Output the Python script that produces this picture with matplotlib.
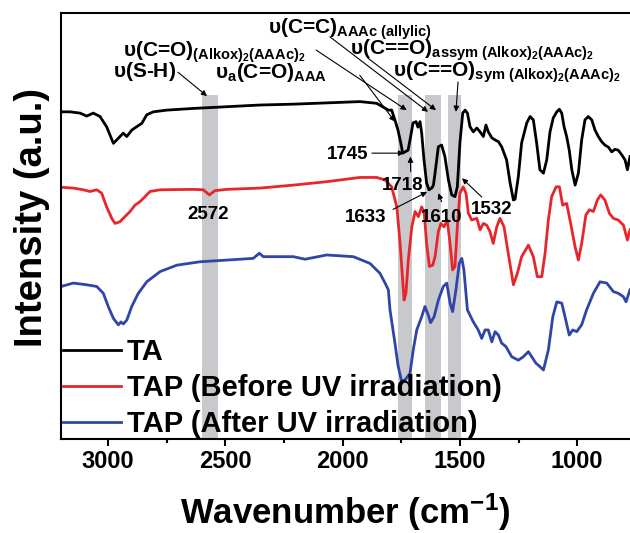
import matplotlib
matplotlib.use('Agg')
import matplotlib.pyplot as plt
from matplotlib.ticker import MultipleLocator

plt.rcParams.update({
    'font.family': 'Liberation Sans',
    'font.weight': 'bold',
    'axes.labelweight': 'bold',
    'mathtext.fontset': 'custom',
    'mathtext.rm': 'Liberation Sans:bold',
    'mathtext.bf': 'Liberation Sans:bold',
    'mathtext.sf': 'Liberation Sans',
    'mathtext.it': 'Liberation Sans:italic',
})

# FTIR spectra (wavenumber in cm-1, intensity in a.u. with vertical offsets)
wn_ta = [3200, 3162, 3119, 3091, 3063, 3034, 3006, 2977, 2963, 2949, 2935, 2920, 2899, 2878, 2856, 2835,
         2807, 2750, 2636, 2494, 2352, 2210, 2068, 1926, 1855, 1805, 1791, 1777, 1764, 1752, 1744, 1734,
         1721, 1710, 1700, 1687, 1679, 1670, 1663, 1653, 1642, 1632, 1620, 1613, 1606, 1592, 1578, 1564,
         1549, 1535, 1521, 1511, 1500, 1488, 1478, 1468, 1457, 1443, 1428, 1414, 1400, 1389, 1379, 1364,
         1350, 1336, 1322, 1301, 1286, 1272, 1265, 1251, 1237, 1215, 1201, 1187, 1173, 1159, 1144, 1130,
         1116, 1102, 1087, 1076, 1066, 1056, 1045, 1034, 1023, 1009, 995, 981, 967, 953, 938, 924,
         910, 896, 882, 867, 853, 839, 825, 810, 796, 786, 775]
int_ta = [76.8, 76.8, 76.5, 75.8, 76.5, 75.7, 73.3, 69.4, 70.2, 71.0, 71.8, 71.0, 72.5, 73.3, 74.1, 76.1,
          76.8, 77.2, 77.6, 78.0, 78.4, 78.6, 78.9, 79.2, 78.8, 77.2, 77.2, 74.9, 72.5, 69.5, 67.1, 67.4,
          67.8, 71.0, 74.2, 74.5, 73.2, 74.5, 71.8, 65.5, 60.1, 58.5, 58.9, 59.6, 62.4, 68.6, 69.0, 66.3,
          60.8, 57.3, 56.9, 59.2, 69.5, 76.5, 77.2, 76.5, 73.3, 72.1, 73.0, 72.1, 71.0, 73.7, 72.1, 70.7,
          70.2, 69.8, 68.6, 65.5, 60.1, 56.1, 56.3, 61.6, 69.5, 74.2, 75.7, 74.9, 69.5, 63.2, 62.4, 65.5,
          72.1, 75.4, 76.8, 77.4, 76.5, 73.3, 71.0, 67.8, 63.2, 59.6, 62.4, 70.2, 74.9, 75.7, 74.9, 72.5,
          71.0, 69.8, 69.0, 68.5, 67.4, 68.0, 67.8, 66.7, 65.5, 63.2, 66.3]

wn_before = [3200, 3148, 3105, 3077, 3048, 3027, 3006, 2984, 2970, 2949, 2928, 2906, 2885, 2864, 2842, 2821,
             2778, 2636, 2594, 2568, 2544, 2494, 2352, 2210, 2068, 1926, 1855, 1819, 1791, 1784, 1769, 1755,
             1744, 1738, 1730, 1720, 1705, 1691, 1677, 1663, 1652, 1642, 1630, 1616, 1606, 1592, 1581, 1568,
             1554, 1542, 1531, 1521, 1511, 1500, 1486, 1474, 1464, 1450, 1428, 1414, 1400, 1386, 1372, 1358,
             1343, 1329, 1312, 1294, 1272, 1255, 1237, 1208, 1187, 1170, 1151, 1137, 1123, 1109, 1090, 1076,
             1062, 1045, 1028, 1009, 995, 981, 963, 948, 931, 914, 900, 882, 863, 846, 825, 803, 786, 775]
int_before = [59.1, 58.9, 58.5, 58.1, 58.5, 57.7, 54.5, 51.8, 50.6, 51.0, 52.2, 53.4, 54.9, 55.7, 56.9, 58.1,
              58.5, 58.6, 58.5, 57.3, 58.3, 58.6, 58.9, 59.6, 60.4, 61.4, 61.4, 60.8, 59.2, 57.7, 54.5, 45.9,
              37.3, 32.6, 34.2, 42.0, 49.8, 53.4, 52.2, 54.5, 53.0, 45.9, 40.5, 40.8, 42.8, 48.7, 50.6, 49.8,
              51.4, 45.9, 39.7, 40.5, 49.8, 57.7, 59.2, 57.7, 53.0, 51.4, 51.8, 49.1, 50.6, 50.2, 48.7, 45.9,
              49.8, 51.8, 49.8, 43.6, 36.2, 38.9, 42.8, 45.5, 42.8, 38.1, 38.1, 43.6, 51.4, 56.9, 59.2, 59.2,
              54.9, 55.3, 50.6, 45.1, 42.0, 45.9, 52.6, 53.8, 53.4, 56.1, 57.3, 56.1, 53.0, 51.8, 51.4, 50.2, 46.7, 49.1]

wn_after = [3200, 3148, 3091, 3048, 3020, 2999, 2977, 2956, 2945, 2935, 2920, 2899, 2871, 2835, 2778, 2707,
            2608, 2494, 2381, 2355, 2338, 2210, 2160, 2068, 1954, 1883, 1841, 1819, 1805, 1798, 1777, 1763,
            1748, 1734, 1713, 1699, 1684, 1663, 1649, 1635, 1625, 1610, 1592, 1571, 1556, 1542, 1531, 1517,
            1503, 1492, 1483, 1468, 1443, 1422, 1407, 1393, 1379, 1364, 1350, 1336, 1322, 1304, 1279, 1251,
            1230, 1208, 1194, 1176, 1159, 1144, 1123, 1104, 1087, 1066, 1052, 1034, 1019, 1002, 981, 960,
            931, 903, 874, 846, 825, 803, 792, 775]
int_after = [35.8, 36.6, 36.2, 35.8, 34.2, 31.1, 28.3, 26.8, 27.5, 27.0, 27.9, 31.1, 34.2, 36.9, 39.3, 40.8,
             41.6, 42.0, 42.4, 43.6, 42.8, 42.8, 42.2, 43.2, 42.8, 41.2, 38.9, 36.6, 35.0, 30.3, 22.5, 17.0,
             13.5, 13.9, 15.4, 20.9, 25.6, 28.7, 31.1, 29.1, 27.3, 28.7, 32.6, 35.8, 36.6, 31.9, 29.9, 35.0,
             41.2, 42.4, 39.7, 30.3, 27.5, 25.6, 23.6, 25.6, 25.6, 22.8, 25.2, 24.4, 22.5, 21.7, 19.3, 18.5,
             19.3, 20.5, 19.3, 17.8, 17.0, 16.2, 20.9, 28.7, 32.2, 31.9, 28.7, 24.4, 25.6, 25.2, 26.8, 30.3,
             34.2, 36.9, 36.6, 34.6, 34.2, 33.4, 32.2, 35.0]

series_labels = ['TA', 'TAP (Before UV irradiation)', 'TAP (After UV irradiation)']
series_colors = ['#000000', '#e8262a', '#2f46a6']

# highlighted bands (cm-1)
band_left = [2600, 1765, 1650, 1550]
band_right = [2530, 1705, 1582, 1497]

# peak numbers: text position and arrow (start -> end)
peak_labels = ['2572', '1745', '1718', '1633', '1610', '1532']
peak_text_x = [2574, 1979, 1742, 1904, 1578, 1363]
peak_text_y = [52.6, 66.7, 59.6, 51.9, 51.9, 53.8]
peak_arrows = [None,
               ((1875, 67.1), (1738, 67.1)),
               ((1710, 62.8), (1711, 66.3)),
               ((1785, 53.9), (1640, 58.0)),
               ((1578, 55.7), (1592, 57.7)),
               ((1407, 56.8), (1491, 61.2))]

# band assignments (sf = regular weight, rm/text = bold)
assign_labels = [
    r'$\mathsf{υ(}\text{S-H}\mathsf{)}$',
    r'$\mathsf{υ}_{\text{a}}\mathsf{(}\text{C=O}\mathsf{)}_{\text{AAA}}$',
    r'$\mathsf{υ(}\text{C=O}\mathsf{)}_{\text{(Alkox)}_{2}\text{(AAAc)}_{2}}$',
    r'$\mathsf{υ(}\text{C=C}\mathsf{)}_{\text{AAAc (allylic)}}$',
    r'$\mathsf{υ(}\text{C==O}\mathsf{)}_{\text{assym (Alkox)}_{2}\text{(AAAc)}_{2}}$',
    r'$\mathsf{υ(}\text{C==O}\mathsf{)}_{\text{sym (Alkox)}_{2}\text{(AAAc)}_{2}}$',
]
assign_x = [2979, 2545, 2936, 2318, 1970, 1785]
assign_y = [85.0, 84.7, 89.7, 95.2, 90.1, 85.0]
assign_arrows = [((2702, 86.1), (2578, 80.5)),
                 ((1927, 85.4), (1777, 74.5)),
                 ((2113, 91.3), (1727, 77.2)),
                 ((2054, 94.4), (1636, 76.8)),
                 ((1892, 89.4), (1602, 77.2)),
                 ((1508, 83.8), (1517, 76.8))]

fig = plt.figure(figsize=(6.3, 5.33), dpi=100)
ax = fig.add_axes([61.1 / 630, 94 / 533, 568.9 / 630, 426 / 533])

for lo, hi in zip(band_left, band_right):
    ax.axvspan(lo, hi, ymin=0, ymax=0.807, color='#c8c9cc', lw=0, zorder=0.5)

for wn, inten, lab, col in zip([wn_ta, wn_before, wn_after], [int_ta, int_before, int_after],
                               series_labels, series_colors):
    ax.plot(wn, inten, color=col, lw=2.0, label=lab, zorder=2)

arrow_kw = dict(arrowstyle='-|>', color='k', lw=0.8, mutation_scale=8, shrinkA=0, shrinkB=0)

for lab, x, y, arr in zip(peak_labels, peak_text_x, peak_text_y, peak_arrows):
    ax.text(x, y, lab, fontsize=13.5, fontweight='bold', ha='center', va='center', zorder=4)
    if arr is not None:
        ax.annotate('', xy=arr[1], xytext=arr[0], arrowprops=arrow_kw, zorder=4)

for lab, x, y, arr in zip(assign_labels, assign_x, assign_y, assign_arrows):
    ax.text(x, y, lab, fontsize=15, ha='left', va='baseline', zorder=4)
    ax.annotate('', xy=arr[1], xytext=arr[0], arrowprops=arrow_kw, zorder=4)

ax.set_xlim(3200, 775)
ax.set_ylim(0, 100)
ax.xaxis.set_major_locator(MultipleLocator(500))
ax.xaxis.set_minor_locator(MultipleLocator(250))
ax.tick_params(axis='x', which='major', direction='out', length=5, width=1.5, labelsize=17, pad=3)
ax.tick_params(axis='x', which='minor', direction='out', length=3, width=1.5)
ax.tick_params(axis='y', which='both', left=False, labelleft=False)
ax.spines['right'].set_visible(False)
for s in ['left', 'top', 'bottom']:
    ax.spines[s].set_linewidth(1.5)

ax.set_xlabel(r'Wavenumber (cm$^{-1}$)', fontsize=25, fontweight='bold', labelpad=13)
ax.set_ylabel('Intensity (a.u.)', fontsize=27.5, fontweight='bold')
ax.yaxis.set_label_coords(-0.02, 0.52)

ax.legend(loc='lower left', bbox_to_anchor=(0.003, 0.003), frameon=False, fontsize=21,
          handlelength=2.0, handletextpad=0.2, labelspacing=0.27, borderpad=0, borderaxespad=0)

fig.savefig('out.png', dpi=100)
